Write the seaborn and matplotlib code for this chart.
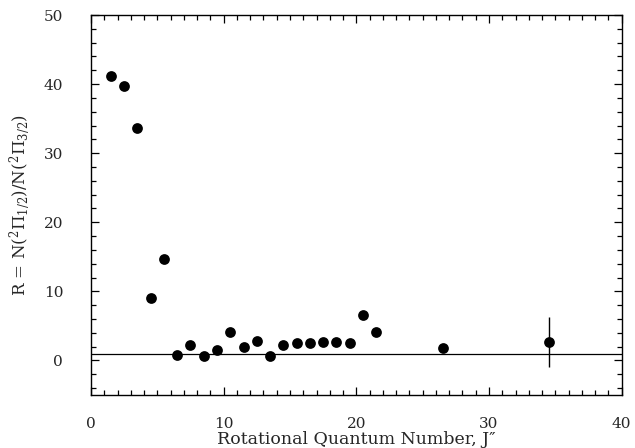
import matplotlib
matplotlib.use("Agg")
import matplotlib.pyplot as plt
import seaborn as sns
import pandas as pd
from matplotlib.ticker import MultipleLocator

sns.set_theme(style="white")
plt.rcParams['font.family'] = ['DejaVu Serif']
plt.rcParams['mathtext.fontset'] = 'dejavuserif'

J = [1.5, 2.5, 3.5, 4.5, 5.5, 6.5, 7.5, 8.5, 9.5, 10.5, 11.5, 12.5, 13.5,
     14.5, 15.5, 16.5, 17.5, 18.5, 19.5, 20.5, 21.5, 26.5, 34.5]
R = [41.2, 39.7, 33.6, 9.1, 14.7, 0.8, 2.3, 0.6, 1.55, 4.1, 2.0, 2.75, 0.7,
     2.2, 2.5, 2.5, 2.6, 2.65, 2.5, 6.6, 4.1, 1.75, 2.65]
R_err = [0, 0, 0, 0, 0, 0, 0, 0, 0, 0, 0, 0, 0,
         0, 0, 0, 0, 0, 0, 0, 0, 0, 3.6]
ref_level = 1.0

df = pd.DataFrame({"J": J, "R": R, "err": R_err})

fig = plt.figure(figsize=(6.35, 4.48), dpi=100)
ax = fig.add_axes([0.1433, 0.1183, 0.8357, 0.8482])

ax.axhline(ref_level, color="black", lw=0.9, zorder=1)
eb = df[df["err"] > 0]
ax.errorbar(eb["J"], eb["R"], yerr=eb["err"], fmt="none", ecolor="black",
            elinewidth=1.0, capsize=0, zorder=2)
sns.scatterplot(data=df, x="J", y="R", ax=ax, color="black", s=60,
                edgecolor="black", linewidth=0, zorder=3)

ax.set_xlim(0, 40)
ax.set_ylim(-5, 50)
ax.xaxis.set_major_locator(MultipleLocator(10))
ax.xaxis.set_minor_locator(MultipleLocator(1))
ax.yaxis.set_major_locator(MultipleLocator(10))
ax.yaxis.set_minor_locator(MultipleLocator(2))
ax.tick_params(which="both", direction="in", top=True, right=True,
               bottom=True, left=True, color="black", width=0.9)
ax.tick_params(which="major", length=6, labelsize=11)
ax.tick_params(which="minor", length=3.5)
ax.tick_params(axis="x", which="major", pad=16)
ax.tick_params(axis="y", which="major", pad=20)
for sp in ax.spines.values():
    sp.set_color("black")
    sp.set_linewidth(1.0)

ax.set_xlabel("Rotational Quantum Number, J\u2033", fontsize=12.5, labelpad=0)
ax.set_ylabel(r"R = N($^2\Pi_{1/2}$)/N($^2\Pi_{3/2}$)", fontsize=12, labelpad=8)

fig.savefig("out.png", dpi=100)
